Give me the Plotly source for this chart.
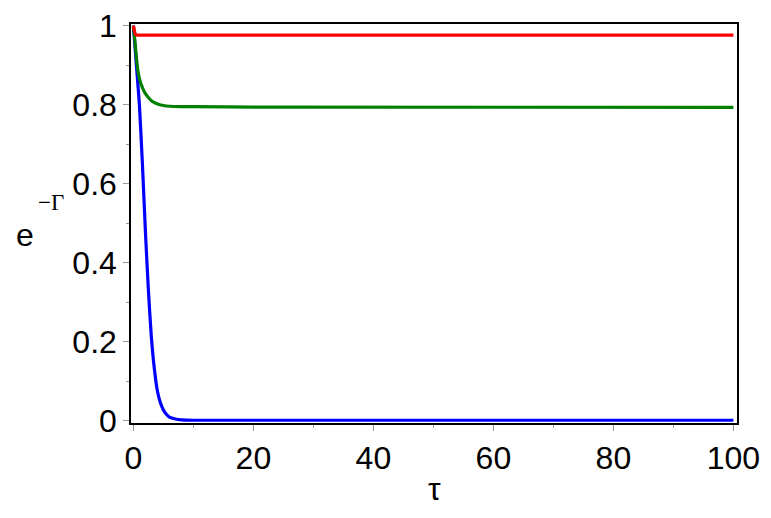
import plotly.graph_objects as go

# Data (tau vs e^{-Gamma})
tau_red = [0, 0.2, 0.4, 0.7, 1.0, 100]
val_red = [1.0, 0.985, 0.977, 0.976, 0.976, 0.976]

tau_green = [0, 0.25, 0.5, 0.75, 1.0, 1.5, 2.0, 2.5, 3.0, 4.0, 5.0, 6.0, 8.0, 10, 20, 100]
val_green = [1.0, 0.96, 0.92, 0.886, 0.866, 0.843, 0.828, 0.818, 0.810, 0.802, 0.798, 0.796, 0.795, 0.795, 0.794, 0.793]

tau_blue = [0, 0.5, 1.0, 1.5, 2.0, 2.5, 3.0, 3.5, 4.0, 4.5, 5.0, 5.5, 6.0, 7.0, 8.0, 10, 100]
val_blue = [1.0, 0.90, 0.80, 0.65, 0.48, 0.33, 0.21, 0.13, 0.075, 0.045, 0.027, 0.016, 0.009, 0.004, 0.002, 0.001, 0.001]

x_ticks = [0, 20, 40, 60, 80, 100]
x_ticktext = ["0", "20", "40", "60", "80", "100"]
y_ticks = [0, 0.2, 0.4, 0.6, 0.8, 1.0]
y_ticktext = ["0", "0.2", "0.4", "0.6", "0.8", "1"]

FONT = "Liberation Sans, Arial, sans-serif"
SERIF = "Liberation Serif, Times New Roman, serif"

fig = go.Figure()
fig.add_trace(go.Scatter(x=tau_blue, y=val_blue, mode="lines",
                         line=dict(color="#0000ff", width=3.2, shape="spline", smoothing=0.6)))
fig.add_trace(go.Scatter(x=tau_green, y=val_green, mode="lines",
                         line=dict(color="#008000", width=3.2, shape="spline", smoothing=0.6)))
fig.add_trace(go.Scatter(x=tau_red, y=val_red, mode="lines",
                         line=dict(color="#ff0000", width=3.2, shape="spline", smoothing=0.4)))

axis_common = dict(
    showline=True, mirror=True, linecolor="black", linewidth=1.5,
    showgrid=False, zeroline=False,
    ticks="outside", ticklen=6, tickwidth=1, tickcolor="#999999",
    tickfont=dict(family=FONT, size=32, color="black"),
    ticklabeloverflow="allow", automargin=False,
)

fig.update_xaxes(range=[-0.4, 100.6], tickvals=x_ticks, ticktext=x_ticktext,
                 minor=dict(ticks="outside", ticklen=3, tickcolor="#999999", dtick=10, tick0=0),
                 **axis_common)
fig.update_yaxes(range=[-0.006, 1.0043], tickvals=y_ticks, ticktext=y_ticktext,
                 minor=dict(ticks="outside", ticklen=3, tickcolor="#999999", dtick=0.1, tick0=0),
                 **axis_common)

# y-axis title: e^{-Γ}
fig.add_annotation(text="e", xref="paper", yref="paper",
                   x=-0.175, y=0.472, xanchor="center", yanchor="middle", showarrow=False,
                   font=dict(family=FONT, size=32, color="black"))
fig.add_annotation(text="−Γ", xref="paper", yref="paper",
                   x=-0.132, y=0.553, xanchor="center", yanchor="middle", showarrow=False,
                   font=dict(family=SERIF, size=23, color="black"))
fig.add_annotation(text="τ", xref="paper", yref="paper",
                   x=0.5, y=-0.165, xanchor="center", yanchor="middle", showarrow=False,
                   font=dict(family=FONT, size=32, color="black"))

# page body has an 8px margin; figure sized so the plot box lands where the reference has it
fig.update_layout(
    width=763, height=510,
    margin=dict(l=123, r=34, t=16, b=95, autoexpand=False),
    paper_bgcolor="white", plot_bgcolor="white",
    showlegend=False,
)

fig.write_html("out.html")
